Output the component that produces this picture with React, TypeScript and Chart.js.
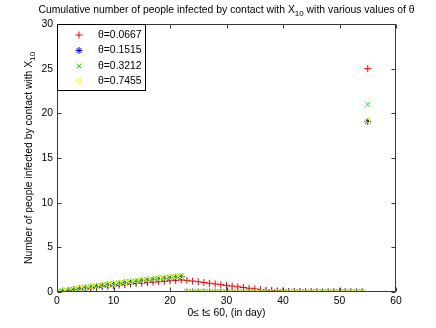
import React, { useEffect, useRef } from 'react';
import { Chart, registerables } from 'chart.js';

Chart.register(...registerables);

const titleMain = 'Cumulative number of people infected by contact with X';
const titleSub = '10';
const titleTail = ' with various values of θ';
const yLabelMain = 'Number of people infected by contact with X';
const yLabelSub = '10';
const xLabel = '0≤ t≤ 60, (in day)';

const xTickValues = [0, 10, 20, 30, 40, 50, 60];
const yTickValues = [0, 5, 10, 15, 20, 25, 30];

const days = [
  0, 1, 2, 3, 4, 5, 6, 7, 8, 9, 10, 11, 12, 13, 14, 15, 16, 17, 18, 19, 20, 21, 22,
  23, 24, 25, 26, 27, 28, 29, 30, 31, 32, 33, 34, 35, 36, 37, 38, 39, 40, 41, 42, 43,
  44, 45, 46, 47, 48, 49, 50, 51, 52, 53, 54, 55,
];

const seriesLabels = ['θ=0.0667', 'θ=0.1515', 'θ=0.3212', 'θ=0.7455'];

const theta0667 = [
  0, 0.08, 0.15, 0.23, 0.3, 0.37, 0.44, 0.51, 0.58, 0.65, 0.71, 0.77, 0.83, 0.89, 0.95, 1.0,
  1.05, 1.1, 1.15, 1.2, 1.25, 1.3, 1.35,
  1.3, 1.22, 1.14, 1.06, 0.98, 0.9, 0.82, 0.74, 0.66, 0.58, 0.5, 0.42, 0.35, 0.28, 0.22,
  0.17, 0.13, 0.1, 0.07, 0.05, 0.04, 0.03, 0.02, 0.01, 0, 0, 0, 0, 0, 0, 0, 0,
  25,
];
const theta1515 = [
  0, 0.09, 0.18, 0.27, 0.36, 0.45, 0.54, 0.63, 0.71, 0.8, 0.88, 0.96, 1.04, 1.11, 1.18, 1.26,
  1.33, 1.39, 1.46, 1.53, 1.59, 1.65, 1.72,
  0, 0, 0, 0, 0, 0, 0, 0, 0, 0, 0, 0, 0, 0, 0, 0, 0, 0, 0, 0, 0, 0, 0, 0, 0, 0, 0, 0, 0, 0, 0, 0,
  19.1,
];
const theta3212 = [
  0, 0.1, 0.2, 0.29, 0.39, 0.48, 0.57, 0.66, 0.74, 0.83, 0.91, 0.99, 1.07, 1.14, 1.21, 1.29,
  1.36, 1.42, 1.49, 1.56, 1.62, 1.68, 1.75,
  0, 0, 0, 0, 0, 0, 0, 0, 0, 0, 0, 0, 0, 0, 0, 0, 0, 0, 0, 0, 0, 0, 0, 0, 0, 0, 0, 0, 0, 0, 0, 0,
  21,
];
const theta7455 = [
  0, 0.11, 0.21, 0.31, 0.41, 0.51, 0.6, 0.69, 0.78, 0.86, 0.94, 1.02, 1.1, 1.17, 1.25, 1.32,
  1.39, 1.46, 1.52, 1.59, 1.65, 1.72, 1.78,
  0, 0, 0, 0, 0, 0, 0, 0, 0, 0, 0, 0, 0, 0, 0, 0, 0, 0, 0, 0, 0, 0, 0, 0, 0, 0, 0, 0, 0, 0, 0, 0,
  19.2,
];

const seriesValues = [theta0667, theta1515, theta3212, theta7455];
const seriesColors = ['#ff0000', '#0000ff', '#00ff00', '#ffff00'];
const seriesStyles = ['cross', 'star', 'crossRot', 'triangle'];
const seriesRotation = [0, 0, 0, -90];

const FONT = '"Liberation Sans", Arial, Helvetica, sans-serif';
const FS = 10.4;

function drawMarker(ctx: CanvasRenderingContext2D, style: string, x: number, y: number, r: number, color: string) {
  ctx.save();
  ctx.strokeStyle = color;
  ctx.lineWidth = 1;
  ctx.beginPath();
  if (style === 'cross' || style === 'star') {
    ctx.moveTo(x - r, y);
    ctx.lineTo(x + r, y);
    ctx.moveTo(x, y - r);
    ctx.lineTo(x, y + r);
  }
  if (style === 'crossRot' || style === 'star') {
    const d = r * Math.SQRT1_2;
    ctx.moveTo(x - d, y - d);
    ctx.lineTo(x + d, y + d);
    ctx.moveTo(x - d, y + d);
    ctx.lineTo(x + d, y - d);
  }
  if (style === 'triangle') {
    ctx.moveTo(x - r, y);
    ctx.lineTo(x + r * 0.5, y - r * 0.866);
    ctx.lineTo(x + r * 0.5, y + r * 0.866);
    ctx.closePath();
  }
  ctx.stroke();
  ctx.restore();
}

function drawSubText(
  ctx: CanvasRenderingContext2D,
  main: string,
  sub: string,
  tail: string,
  cx: number,
  baseline: number,
  size: number,
) {
  const mainFont = `${size}px ${FONT}`;
  const subFont = `${Math.round(size * 0.75)}px ${FONT}`;
  ctx.font = mainFont;
  const w1 = ctx.measureText(main).width;
  const w3 = ctx.measureText(tail).width;
  ctx.font = subFont;
  const w2 = ctx.measureText(sub).width;
  let x = cx - (w1 + w2 + w3) / 2;
  ctx.textAlign = 'left';
  ctx.textBaseline = 'alphabetic';
  ctx.font = mainFont;
  ctx.fillText(main, x, baseline);
  x += w1;
  ctx.font = subFont;
  ctx.fillText(sub, x, baseline + size * 0.3);
  x += w2;
  ctx.font = mainFont;
  ctx.fillText(tail, x, baseline);
}

const matlabPlugin = {
  id: 'matlabDecor',
  afterDraw(chart: any) {
    const ctx: CanvasRenderingContext2D = chart.ctx;
    const { left, right, top, bottom } = chart.chartArea;
    const xs = chart.scales.x;
    const ys = chart.scales.y;
    ctx.save();
    ctx.strokeStyle = '#3a3a3a';
    ctx.lineWidth = 1;
    const L = Math.round(left) + 0.5;
    const R = Math.round(right) - 0.5;
    const T = Math.round(top) + 0.5;
    const B = Math.round(bottom) - 0.5;
    ctx.strokeRect(L, T, R - L, B - T);
    const tl = 4;
    ctx.beginPath();
    xTickValues.forEach((v) => {
      const px = Math.round(xs.getPixelForValue(v)) + 0.5;
      ctx.moveTo(px, B);
      ctx.lineTo(px, B - tl);
      ctx.moveTo(px, T);
      ctx.lineTo(px, T + tl);
    });
    yTickValues.forEach((v) => {
      const py = Math.round(ys.getPixelForValue(v)) + 0.5;
      ctx.moveTo(L, py);
      ctx.lineTo(L + tl, py);
      ctx.moveTo(R, py);
      ctx.lineTo(R - tl, py);
    });
    ctx.stroke();

    ctx.fillStyle = '#000';
    drawSubText(ctx, titleMain, titleSub, titleTail, (left + right) / 2, 13, FS);
    ctx.font = `${FS}px ${FONT}`;
    ctx.textAlign = 'center';
    ctx.textBaseline = 'alphabetic';
    ctx.fillText(xLabel, (left + right) / 2, 316);
    ctx.save();
    ctx.translate(32, (top + bottom) / 2);
    ctx.rotate(-Math.PI / 2);
    drawSubText(ctx, yLabelMain, yLabelSub, '', 0, 0, FS);
    ctx.restore();

    const bx = L;
    const by = T;
    const bw = 88;
    const bh = 66;
    ctx.fillStyle = '#fff';
    ctx.fillRect(bx, by, bw, bh);
    ctx.strokeStyle = '#000';
    ctx.strokeRect(bx, by, bw, bh);
    const rowY = [35, 50.5, 66, 81];
    ctx.fillStyle = '#000';
    ctx.font = `${FS}px ${FONT}`;
    ctx.textAlign = 'left';
    ctx.textBaseline = 'middle';
    seriesLabels.forEach((lab, i) => {
      drawMarker(ctx, seriesStyles[i], 79, rowY[i], 3.5, seriesColors[i]);
      ctx.fillText(lab, 98, rowY[i]);
    });
    ctx.restore();
  },
};

export default function App() {
  const canvasRef = useRef<HTMLCanvasElement | null>(null);

  useEffect(() => {
    document.body.style.margin = '0';
    const canvas = canvasRef.current;
    if (!canvas) return;
    const datasets = seriesValues.map((vals, i) => ({
      label: seriesLabels[i],
      data: days.map((d, j) => ({ x: d, y: vals[j] })),
      showLine: false,
      pointStyle: seriesStyles[i] as any,
      rotation: seriesRotation[i],
      pointRadius: 3.5,
      pointBorderWidth: 1,
      borderColor: seriesColors[i],
      backgroundColor: 'rgba(0,0,0,0)',
      pointBackgroundColor: 'rgba(0,0,0,0)',
      order: 4 - i,
    }));
    const chart = new Chart(canvas, {
      type: 'scatter',
      data: { datasets },
      options: {
        responsive: false,
        animation: false,
        devicePixelRatio: 1,
        events: [],
        layout: { padding: { left: 0, top: 24, right: 40, bottom: 0 } },
        plugins: {
          legend: { display: false },
          title: { display: false },
          tooltip: { enabled: false },
        },
        scales: {
          x: {
            type: 'linear',
            min: 0,
            max: 60,
            grid: { display: false, drawTicks: false },
            border: { display: false },
            ticks: {
              stepSize: 10,
              padding: 3,
              color: '#000',
              font: { family: FONT, size: FS },
            },
            afterFit(scale: any) {
              scale.height = 36;
              scale.paddingLeft = 0;
              scale.paddingRight = 0;
            },
          },
          y: {
            type: 'linear',
            min: 0,
            max: 30,
            grid: { display: false, drawTicks: false },
            border: { display: false },
            ticks: {
              stepSize: 5,
              padding: 4,
              color: '#000',
              font: { family: FONT, size: FS },
            },
            afterFit(scale: any) {
              scale.width = 57;
              scale.paddingTop = 0;
              scale.paddingBottom = 0;
            },
          },
        },
      },
      plugins: [matlabPlugin],
    });
    return () => chart.destroy();
  }, []);

  return (
    <div style={{ width: 436, height: 328, background: '#fff' }}>
      <canvas ref={canvasRef} width={436} height={328} />
    </div>
  );
}
